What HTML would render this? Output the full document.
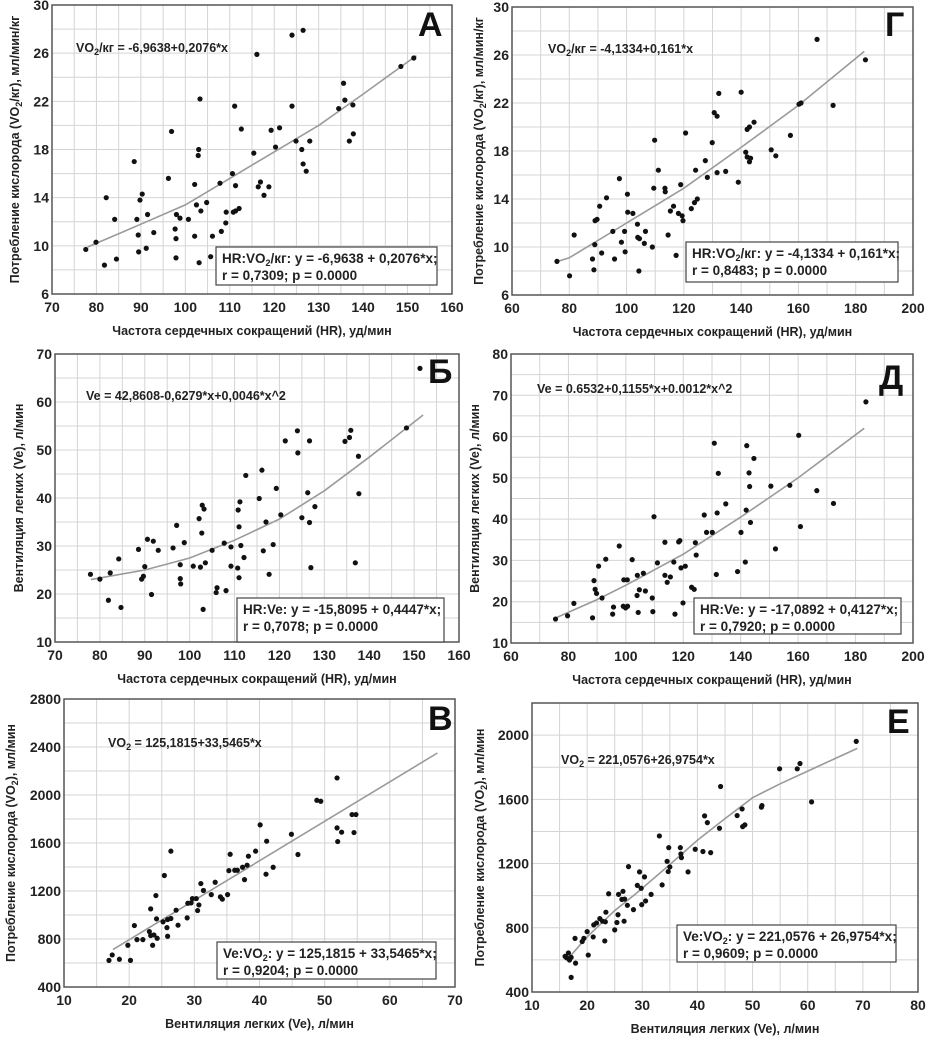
<!DOCTYPE html>
<html><head><meta charset="utf-8">
<style>
body{margin:0;background:#fff;}
svg{display:block;font-family:"Liberation Sans",Arial,sans-serif;}
.tk{font-size:14px;font-weight:bold;fill:#222;}
.eq{font-size:12.5px;font-weight:bold;fill:#222;}
.ttl{font-size:12.5px;font-weight:bold;fill:#222;}
.let{font-size:34px;font-weight:bold;fill:#111;}
.bx{font-size:13.5px;font-weight:bold;fill:#222;}
</style></head>
<body>
<svg id="fig" width="930" height="1038" viewBox="0 0 930 1038"></svg>
<script>
// Panel A: HR vs VO2/kg
const aX=[77.6,79.9,81.8,82.2,84.1,84.5,88.5,89.1,89.4,89.5,89.8,90.3,91.2,91.5,92.9,96.2,96.9,97.7,97.9,97.9,98.0,98.8,100.7,102.1,102.1,102.5,103,102.9,103.3,103.1,103.5,104.8,105.7,106.1,107.8,108.1,109.1,109.2,110.6,110.8,111.1,111.3,111.3,112.1,112.6,115.4,116.1,116.4,116.9,117.7,118.8,119.3,120.3,121.2,124,124,124.9,126.2,126.5,126.5,127.2,128,134.5,135.6,135.9,136.9,137.7,137.8,148.5,151.4];
const aY=[9.7,10.3,8.4,14.0,12.2,8.9,17.0,12.2,10.9,9.5,13.8,14.3,9.8,12.6,11.1,15.6,19.5,11.4,10.6,9.0,12.6,12.3,12.2,15.1,10.8,13.4,18.0,17.5,22.2,8.6,12.9,13.6,9.1,10.8,15.2,11.2,11.9,12.8,16.0,12.8,21.6,15.0,12.9,13.1,19.7,17.7,25.9,14.9,15.3,14.2,14.9,19.6,18.2,19.8,27.5,21.6,18.7,18.0,16.8,27.9,16.2,18.7,21.4,23.5,22.1,18.7,21.7,19.3,24.9,25.6];
const aFitX=[78,90,100,110,120,130,140,152];
const aFitY=[9.9,11.8,13.4,15.6,17.8,20,22.6,25.8];
// Panel B: HR vs Ve
const bX=[77.9,80,82.3,81.9,84.2,84.7,88.6,89.3,89.7,90.0,90.6,91.5,91.9,93,96.3,97.1,97.9,97.9,98,98.8,100.8,102.1,102.4,102.7,102.8,103.2,103,103.5,105,105.9,106.1,107.7,108.1,109.2,109.2,110.7,110.8,111,111,111.2,111.4,112.1,112.5,115.5,116.1,116.4,117,117.7,118.6,119.3,120.3,121.3,124,124.1,125,126.3,126.7,126.7,127,127.9,134.6,135.6,135.9,136.9,137.6,137.7,148.3,151.3];
const bY=[24.1,23.1,24.4,18.7,27.3,17.2,29.3,23.1,23.7,25.7,31.4,19.9,31.0,29.1,29.6,34.3,26.1,23.2,22.1,30.7,25.8,35.7,25.6,32.7,38.5,37.7,16.8,26.5,29.1,20.3,21.3,30.6,20.7,29.8,25.8,25.4,37.5,34.0,23.4,39.2,30.1,27.6,44.7,39.9,45.8,29.0,35,24.1,30.3,42.0,36.5,51.9,54.0,49.4,35.9,41.1,51.9,34.9,25.5,38.2,51.8,52.6,54.1,26.5,48.7,40.9,54.6,67.0];
const bFitX=[78,90,100,110,120,130,140,152];
const bFitY=[23,25,27.5,31.2,35.6,41.5,48.5,57.3];
// Panel V: Ve vs VO2
const vX=[16.9,17.4,18.5,19.8,20.2,20.8,21.2,22.1,23.1,23.3,23.3,23.6,23.8,24.1,24.2,24.3,25.2,25.4,25.8,25.9,25.9,26.4,26.4,27.2,27.5,28.9,29.0,29.5,29.7,30.3,30.5,30.7,31.0,31.4,32.6,33.2,34.0,34.3,35.1,35.3,35.5,36.2,36.6,37.4,37.7,38.3,38.1,39.4,40.1,41,41.1,42.1,44.9,45.9,48.8,49.4,51.9,51.9,52,52.6,54.2,54.5,54.8];
const vY=[622,667,631,748,622,912,795,795,862,1051,829,748,834,1162,968,806,943,1329,895,823,962,1532,971,1040,915,976,1098,1101,1137,1137,1037,1084,1262,1204,1170,1273,1151,1132,1170,1370,1506,1373,1373,1398,1295,1490,1415,1532,1751,1340,1615,1398,1673,1504,1956,1948,2142,1726,1612,1690,1837,1687,1837];
const vFitX=[17.5,67.3];
const vFitY=[712,2350];
// Panel G: HR vs VO2/kg
const gX=[75.7,80.1,81.7,88.1,88.6,88.9,89,89.7,90.6,91.3,93,95.2,95.8,97.5,98.2,99.3,99.5,100.3,100.4,102.2,103.8,103.9,104.3,104.5,106.2,106.6,109,109.5,109.8,111.1,113.4,113.5,114.5,115.3,116.4,117.3,118.1,118.9,119.4,119.7,120.6,122.6,123.7,124.1,124.7,127.5,128.2,129.9,130.6,131.6,131.6,132.2,134.6,139,140,141.6,142.1,142.1,142.9,142.9,143.3,144.5,150.5,152.1,157.2,160.2,160.9,166.5,172.1,183.4];
const gY=[8.8,7.6,11.0,9.0,8.1,10.2,12.2,12.3,13.4,9.5,14.1,11.3,9.0,15.7,10.4,11.3,9.6,14.4,12.9,12.8,11.9,10.8,8.0,10.7,10.3,11.3,10.0,14.9,18.9,16.4,14.9,14.6,11.0,13.0,13.4,9.3,12.8,15.2,12.6,12.2,19.5,13.2,13.7,16.4,14.0,17.2,15.8,18.7,21.2,20.9,16.2,22.8,16.3,15.4,22.9,17.9,19.8,17.5,20.0,17.1,17.4,20.4,18.1,17.6,19.3,21.9,22.0,27.3,21.8,25.6];
const gFitX=[76,80,100,120,140,160,183];
const gFitY=[8.8,9.1,12.0,14.9,18.3,21.8,26.3];
// Panel D: HR vs Ve
const dX=[75.5,79.7,81.9,88.4,88.9,89.3,89.8,90.5,91.7,93,95.4,95.7,97.7,99.1,99.3,99.9,100.5,100.6,102.2,103.9,104,104.3,104.7,106.1,106.8,109.2,109.4,109.8,111,113.6,113.6,114.4,115.5,116.7,117.1,118.4,118.8,119.2,119.9,120.7,122.9,123.8,124.2,124.5,127.3,128.1,130.1,130.8,131.5,131.8,132.2,134.8,138.9,140.1,141.6,141.9,142.1,142.9,143.1,143.4,144.6,150.5,152.1,157.1,160.2,160.8,166.5,172.3,183.6];
const dY=[15.8,16.6,19.6,16.1,25.1,23.0,22.0,28.6,20.9,30.3,17.0,18.7,33.5,18.9,25.3,18.5,25.3,18.9,30.2,21.5,26.4,17.4,22.9,26.9,22.6,20.9,17.6,40.6,29.4,26.4,34.4,24.7,26,29.6,17.0,34.5,34.8,28.2,19.7,28.6,23.5,23.0,34.3,31.3,41,36.8,36.8,58.4,26.6,41.5,51.1,43.7,27.3,36.8,29.6,42.2,57.8,51.2,47.9,39.2,54.7,48,32.8,48.2,60.3,38.2,46.9,43.8,68.4];
const dFitX=[76,90,100,120,140,160,183];
const dFitY=[16.2,20.5,24,31.5,40.5,50,62];
// Panel E: Ve vs VO2
const eX=[16.0,16.3,16.6,16.8,17.1,17.1,17.8,17.9,19.1,19.4,20.0,20.2,21.1,21.2,21.7,22.3,22.8,23.2,23.3,23.4,23.9,25,25.4,25.6,25.7,26.3,26.5,26.7,26.8,27.3,27.5,28.4,29.1,29.5,29.8,29.9,30.4,30.6,31.6,33.1,33.6,34.5,34.7,34.8,35.0,36.9,37,37.1,38.3,39.6,41,41.3,41.8,42.4,44,44.2,47.2,48.1,48.2,48.6,51.6,51.7,54.9,58.1,58.6,60.7,68.8];
const eY=[622,612,643,599,491,616,734,580,714,734,776,630,743,818,830,857,841,718,837,897,1012,787,833,881,1008,977,1027,841,979,940,1181,913,1064,1148,1046,944,1117,967,1008,1372,1067,1214,1150,1299,1179,1299,1260,1237,1148,1289,1275,1497,1455,1268,1420,1680,1499,1540,1430,1441,1551,1561,1790,1790,1823,1584,1961];
const eFitX=[17,20,25,29,35,40,45,50,55,60,69];
const eFitY=[626,743,907,1017,1194,1345,1480,1610,1697,1776,1917];

const NS='http://www.w3.org/2000/svg';
const svg=document.getElementById('fig');
function mk(tag,attrs,parent){const e=document.createElementNS(NS,tag);for(const k in attrs)e.setAttribute(k,attrs[k]);(parent||svg).appendChild(e);return e;}
function txt(s,x,y,cls,parent,anchor){const t=mk('text',{x:x,y:y,class:cls,'text-anchor':anchor||'start'},parent);t.textContent=s;return t;}

function panel(p){
  const g=mk('g',{});
  
  
  const sx=v=>p.L+(v-p.x0)/(p.x1-p.x0)*(p.R-p.L);
  const sy=v=>p.B-(v-p.y0)/(p.y1-p.y0)*(p.B-p.T);
  // grid
  for(let v=p.x0;v<=p.x1+1e-9;v+=p.xs/2){mk('line',{x1:sx(v),x2:sx(v),y1:p.T,y2:p.B,stroke:'#d4d4d4','stroke-width':1},g);}
  for(let v=p.y0;v<=p.y1+1e-9;v+=p.ys/2){mk('line',{x1:p.L,x2:p.R,y1:sy(v),y2:sy(v),stroke:'#d4d4d4','stroke-width':1},g);}
  const fr=mk('rect',{x:p.L,y:p.T,width:p.R-p.L,height:p.B-p.T,fill:'none',stroke:'#555','stroke-width':1.5},g);
  
  
  // ticks
  for(let v=p.x0;v<=p.x1+1e-9;v+=p.xs){
    const t=txt(String(v),sx(v),p.B+18,'tk',g,'middle');
    
    
  }
  for(let v=p.y0;v<=p.yl+1e-9;v+=p.ys){
    const t=txt(String(v),p.L-3,sy(v)+5,'tk',g,'end');
    
    
  }
  // fit line
  let d='';
  p.fx.forEach((v,i)=>{d+=(i?'L':'M')+sx(v).toFixed(1)+','+sy(p.fy[i]).toFixed(1);});
  const fl=mk('path',{d:d,fill:'none',stroke:'#9a9a9a','stroke-width':1.6},g);
  
  
  // points
  p.px.forEach((v,i)=>{
    const c=mk('circle',{cx:sx(v),cy:sy(p.py[i]),r:2.6,fill:'#111'},g);
    
    
  });
  // equation
  const eq=mk('text',{x:p.eqx,y:p.eqy,class:'eq'},g);
  eq.innerHTML=p.eq;
  
  
  // stats box
  const bxr=mk('rect',{x:p.bx,y:p.by,width:p.bw,height:p.bh,fill:'#fff',stroke:'#444','stroke-width':1.2},g);
  
  
  const l1=mk('text',{x:p.bx+6,y:p.by+16,class:'bx'},g);l1.innerHTML=p.b1;
  
  
  const l2=txt(p.b2,p.bx+6,p.by+33,'bx',g);
  
  
  // letter
  const le=txt(p.id,p.lx,p.ly,'let',g);
  
  
  // axis titles
  const xt=txt(p.xt,(p.L+p.R)/2,p.B+41,'ttl',g,'middle');
  
  
  const yt=mk('text',{x:0,y:0,class:'ttl','text-anchor':'middle',transform:'translate('+p.ytx+','+((p.T+p.B)/2)+') rotate(-90)'},g);
  yt.innerHTML=p.yt;
  
  
}
const HR='Частота сердечных сокращений (HR), уд/мин';
const VE='Вентиляция легких (Ve), л/мин';
const sub='<tspan font-size="9" dy="3">2</tspan><tspan dy="-3">';
panel({id:'А',L:52,R:452,T:5,B:294,x0:70,x1:160,xs:10,y0:6,y1:30,yl:30,ys:4,px:aX,py:aY,fx:aFitX,fy:aFitY,
 eq:'VO'+sub+'/кг = -6,9638+0,2076*x</tspan>',eqx:76,eqy:52,bx:216,by:247,bw:221,bh:38,
 b1:'HR:VO'+sub+'/кг: y = -6,9638 + 0,2076*x;</tspan>',b2:'r = 0,7309; p = 0.0000',lx:418,ly:36,xt:HR,
 yt:'Потребление кислорода (VO'+sub+'/кг), мл/мин/кг</tspan>',ytx:19});
panel({id:'Б',L:55,R:459,T:354,B:642,x0:70,x1:160,xs:10,y0:10,y1:70,yl:70,ys:10,px:bX,py:bY,fx:bFitX,fy:bFitY,
 eq:'Ve = 42,8608-0,6279*x+0,0046*x^2',eqx:86,eqy:400,bx:237,by:598,bw:207,bh:44,
 b1:'HR:Ve: y = -15,8095 + 0,4447*x;',b2:'r = 0,7078; p = 0.0000',lx:428,ly:383,xt:HR,
 yt:VE,ytx:23});
panel({id:'В',L:64,R:455,T:699,B:987,x0:10,x1:70,xs:10,y0:400,y1:2800,yl:2800,ys:400,px:vX,py:vY,fx:vFitX,fy:vFitY,
 eq:'VO'+sub+' = 125,1815+33,5465*x</tspan>',eqx:108,eqy:747,bx:217,by:942,bw:219,bh:37,
 b1:'Ve:VO'+sub+': y = 125,1815 + 33,5465*x;</tspan>',b2:'r = 0,9204; p = 0.0000',lx:428,ly:730,xt:VE,
 yt:'Потребление кислорода (VO'+sub+'), мл/мин</tspan>',ytx:15});
panel({id:'Г',L:512,R:913,T:7,B:295,x0:60,x1:200,xs:20,y0:6,y1:30,yl:30,ys:4,px:gX,py:gY,fx:gFitX,fy:gFitY,
 eq:'VO'+sub+'/кг = -4,1334+0,161*x</tspan>',eqx:548,eqy:53,bx:686,by:242,bw:212,bh:40,
 b1:'HR:VO'+sub+'/кг: y = -4,1334 + 0,161*x;</tspan>',b2:'r = 0,8483; p = 0.0000',lx:885,ly:36,xt:HR,
 yt:'Потребление кислорода (VO'+sub+'/кг), мл/мин/кг</tspan>',ytx:483});
panel({id:'Д',L:511,R:913,T:354,B:643,x0:60,x1:200,xs:20,y0:10,y1:80,yl:80,ys:10,px:dX,py:dY,fx:dFitX,fy:dFitY,
 eq:'Ve = 0.6532+0,1155*x+0.0012*x^2',eqx:537,eqy:393,bx:694,by:598,bw:207,bh:36,
 b1:'HR:Ve: y = -17,0892 + 0,4127*x;',b2:'r = 0,7920; p = 0.0000',lx:879,ly:389,xt:HR,
 yt:VE,ytx:479});
panel({id:'Е',L:532,R:918,T:703,B:992,x0:10,x1:80,xs:10,y0:400,y1:2200,yl:2000,ys:400,px:eX,py:eY,fx:eFitX,fy:eFitY,
 eq:'VO'+sub+' = 221,0576+26,9754*x</tspan>',eqx:561,eqy:764,bx:677,by:925,bw:219,bh:37,
 b1:'Ve:VO'+sub+': y = 221,0576 + 26,9754*x;</tspan>',b2:'r = 0,9609; p = 0.0000',lx:887,ly:733,xt:VE,
 yt:'Потребление кислорода (VO'+sub+'), мл/мин</tspan>',ytx:484});
</script>
</body></html>
